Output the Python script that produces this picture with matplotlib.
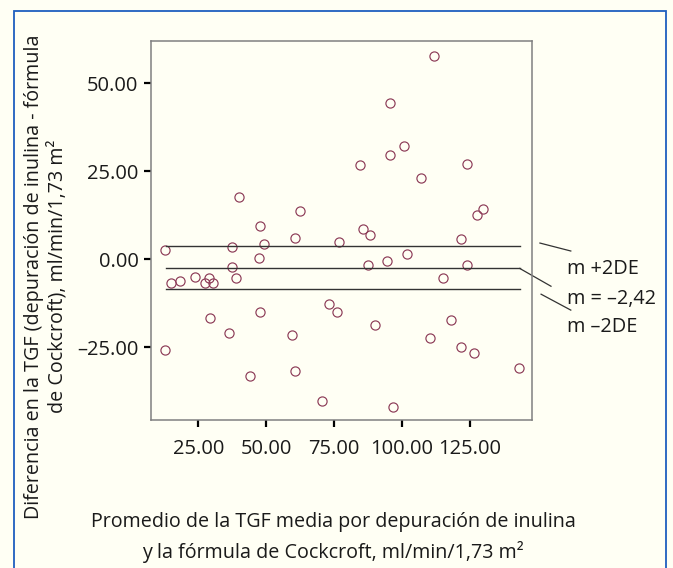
import matplotlib
matplotlib.use("Agg")
import matplotlib.pyplot as plt
from matplotlib.patches import Rectangle
from matplotlib.lines import Line2D
from matplotlib.ticker import FuncFormatter

plt.rcParams['font.family'] = ['Open Sans', 'DejaVu Sans']

# Promedio TGF (x) y diferencia inulina - Cockcroft (y)
promedio = [12.7, 37.4, 49.4, 60.8, 76.9, 40.2, 62.4, 47.9, 111.9, 95.6,
            100.7, 95.6, 84.8, 124.1, 107.2, 130.1, 127.9, 85.8, 88.3, 121.7,
            47.5, 37.4, 23.9, 38.8, 15.0, 18.4, 29.1, 27.6, 30.4, 47.9,
            29.2, 73.3, 76.0, 36.2, 59.7, 12.7, 60.8, 43.9, 70.7, 101.8,
            94.7, 87.7, 124.1, 115.4, 90.0, 118.2, 110.4, 122.0, 126.7, 143.2,
            96.7]
diferencia = [2.5, 3.3, 4.3, 5.9, 4.9, 17.5, 13.7, 9.5, 57.8, 44.2,
              32.2, 29.5, 26.7, 26.9, 23.1, 14.3, 12.4, 8.6, 6.8, 5.7,
              0.4, -2.3, -5.0, -5.3, -6.9, -6.2, -5.5, -6.8, -6.8, -14.9,
              -16.6, -12.8, -15.0, -21.0, -21.6, -25.9, -31.7, -33.3, -40.3, 1.4,
              -0.5, -1.8, -1.8, -5.3, -18.7, -17.3, -22.4, -25.1, -26.7, -30.9,
              -41.9]

media = -2.42
lim_sup = 3.7
lim_inf = -8.5
linea_x = [13.2, 143.5]

xticks = [25, 50, 75, 100, 125]
yticks = [-25, 0, 25, 50]
etiquetas = ["m +2DE", "m = \u20132,42", "m \u20132DE"]

fondo = "#fffff4"
fig = plt.figure(figsize=(6.73, 5.68), dpi=100, facecolor=fondo)
ax = fig.add_axes([0.2244, 0.2606, 0.566, 0.667], facecolor=fondo)

ax.plot(promedio, diferencia, linestyle="none", marker="o", markersize=6.6,
        markerfacecolor="none", markeredgecolor="#8c3b57", markeredgewidth=0.85)

for val in [lim_sup, media, lim_inf]:
    ax.plot(linea_x, [val, val], color="#333333", linewidth=1.0)

ax.set_xlim(7.6, 148.0)
ax.set_ylim(-45.7, 61.9)
ax.set_xticks(xticks)
ax.set_yticks(yticks)
fmt = FuncFormatter(lambda v, p: f"{v:.2f}".replace("-", "\u2013"))
ax.xaxis.set_major_formatter(fmt)
ax.yaxis.set_major_formatter(fmt)
ax.tick_params(axis="both", labelsize=14.5, length=5, width=1.6, color="black",
               labelcolor="#1a1a1a")
ax.tick_params(axis="x", pad=9)
ax.tick_params(axis="y", pad=4)
for s in ax.spines.values():
    s.set_color("#808080")
    s.set_linewidth(1.1)

# lineas guia hacia las etiquetas (coordenadas de ejes)
guias = [((1.021, 0.467), (1.102, 0.446)),
         ((0.968, 0.400), (1.050, 0.353)),
         ((1.024, 0.332), (1.102, 0.290))]
for (a, b) in guias:
    ax.add_line(Line2D([a[0], b[0]], [a[1], b[1]], transform=ax.transAxes,
                       color="#333333", linewidth=0.9, clip_on=False))

for txt, yy in zip(etiquetas, [0.398, 0.319, 0.245]):
    ax.text(1.092, yy, txt, transform=ax.transAxes, fontsize=14.3,
            va="center", ha="left", color="#1a1a1a")

fig.text(0.068, 0.513,
         "Diferencia en la TGF (depuración de inulina - fórmula\n"
         "de Cockcroft), ml/min/1,73 m\u00b2",
         rotation=90, ha="center", va="center", multialignment="center",
         fontsize=14.2, color="#1a1a1a", linespacing=1.25)
fig.text(0.495, 0.054,
         "Promedio de la TGF media por depuración de inulina\n"
         "y la fórmula de Cockcroft, ml/min/1,73 m\u00b2",
         ha="center", va="center", multialignment="center",
         fontsize=14.2, color="#1a1a1a", linespacing=1.5)

fig.add_artist(Rectangle((0.0208, -0.01), 0.9688, 0.9906,
                         transform=fig.transFigure, fill=False,
                         edgecolor="#1f5fbf", linewidth=1.3))

fig.savefig("out.png", dpi=100, facecolor=fondo)
